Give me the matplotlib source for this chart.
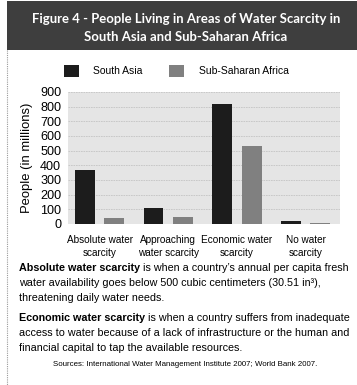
import numpy as np
import matplotlib.pyplot as plt
from matplotlib.patches import Rectangle
from matplotlib.lines import Line2D

# ── data ─────────────────────────────────────────────
categories = ["Absolute water\nscarcity", "Approaching\nwater scarcity",
              "Economic water\nscarcity", "No water\nscarcity"]
south_asia = [365, 110, 820, 20]
sub_saharan = [40, 45, 530, 8]
series_names = ["South Asia", "Sub-Saharan Africa"]
y_ticks = [0, 100, 200, 300, 400, 500, 600, 700, 800, 900]

title_lines = ["Figure 4 - People Living in Areas of Water Scarcity in",
               "South Asia and Sub-Saharan Africa"]
notes = [
    ("Absolute water scarcity",
     [" is when a country\u2019s annual per capita fresh",
      "water availability goes below 500 cubic centimeters (30.51 in\u00b3),",
      "threatening daily water needs."]),
    ("Economic water scarcity",
     [" is when a country suffers from inadequate",
      "access to water because of a lack of infrastructure or the human and",
      "financial capital to tap the available resources."]),
]
source_text = "Sources: International Water Management Institute 2007; World Bank 2007."

# ── style ────────────────────────────────────────────
W, H = 357, 385
BODY_FONT = ["Liberation Sans", "DejaVu Sans"]
TITLE_FONT = ["Lato", "Open Sans", "DejaVu Sans"]
plt.rcParams["font.family"] = BODY_FONT
SA_COLOR = "#1c1c1c"
SSA_COLOR = "#808080"
BG_COLOR = "#e5e5e5"
BAND_COLOR = "#3e3e3e"

fig = plt.figure(figsize=(W / 100, H / 100), dpi=100)
renderer = fig.canvas.get_renderer()


def px(x, y):
    """pixel position (from top-left) -> figure fraction"""
    return x / W, 1 - y / H


def fit_size(text, width_px, base=10, **kw):
    """font size at which `text` is width_px wide"""
    t = fig.text(0, 0, text, fontsize=base, **kw)
    w = t.get_window_extent(renderer=renderer).width
    t.remove()
    return base * width_px / w


# title band
band = Rectangle(px(7, 50), (W - 7) / W, 49 / H, transform=fig.transFigure,
                 facecolor=BAND_COLOR, edgecolor="none")
fig.add_artist(band)
fs_title = fit_size(title_lines[0], 307, fontweight="bold", family=TITLE_FONT)
for i, line in enumerate(title_lines):
    fig.text(*px(186, 19 + 18 * i), line, ha="center", va="center",
             color="white", fontsize=fs_title, fontweight="bold",
             family=TITLE_FONT)

# dotted rule down the left side
fig.add_artist(Line2D([7 / W, 7 / W], [1 - 50 / H, 0], transform=fig.transFigure,
                      color="#9a9a9a", lw=0.8, ls=(0, (1, 1))))

# chart
fs_cat = fit_size("Absolute water", 66)
fs_tick = fit_size("900", 21)
fs_ylab = fit_size("People (in millions)", 110)
fs_leg = fit_size("Sub-Saharan Africa", 90)

ax = fig.add_axes([68 / W, 1 - 224 / H, (340 - 68) / W, (224 - 92) / H])
ax.set_facecolor(BG_COLOR)
x = np.arange(len(categories))
bw = 0.29
ax.bar(x - 0.215, south_asia, bw, color=SA_COLOR, label=series_names[0], zorder=3)
ax.bar(x + 0.215, sub_saharan, bw, color=SSA_COLOR, label=series_names[1], zorder=3)
ax.set_xlim(-0.46, 3.5)
ax.set_ylim(0, 900)
ax.set_yticks(y_ticks)
ax.set_xticks(x)
ax.set_xticklabels(categories, fontsize=fs_cat, linespacing=1.4)
ax.tick_params(axis="both", length=0)
ax.tick_params(axis="y", labelsize=fs_tick, pad=5)
ax.tick_params(axis="x", pad=8)
ax.grid(axis="y", color="#c4c4c4", lw=0.6, ls=(0, (2, 1)), zorder=1)
for s in ax.spines.values():
    s.set_visible(False)
ax.set_ylabel("People (in millions)", fontsize=fs_ylab, labelpad=5)

ax.legend(loc="center", bbox_to_anchor=(px(176, 71)), bbox_transform=fig.transFigure,
          ncol=2, frameon=False, fontsize=fs_leg, handlelength=1.5,
          handleheight=1.45, handletextpad=1.4, columnspacing=2.5)

# notes under the chart
fs_note = fit_size(notes[0][0] + notes[0][1][0], 320)
y0 = 268
for bold, rest in notes:
    t = fig.text(*px(19, y0), bold, fontsize=fs_note, fontweight="bold",
                 ha="left", va="center")
    bb = t.get_window_extent(renderer=renderer)
    fig.text(bb.x1 / W, 1 - y0 / H, rest[0], fontsize=fs_note, ha="left", va="center")
    for j, line in enumerate(rest[1:], start=1):
        fig.text(*px(19, y0 + 15 * j), line, fontsize=fs_note, ha="left", va="center")
    y0 += 50

fs_src = fit_size(source_text, 266)
fig.text(*px(185, 365), source_text, fontsize=fs_src, ha="center", va="center")

fig.savefig("out.png", dpi=100)
